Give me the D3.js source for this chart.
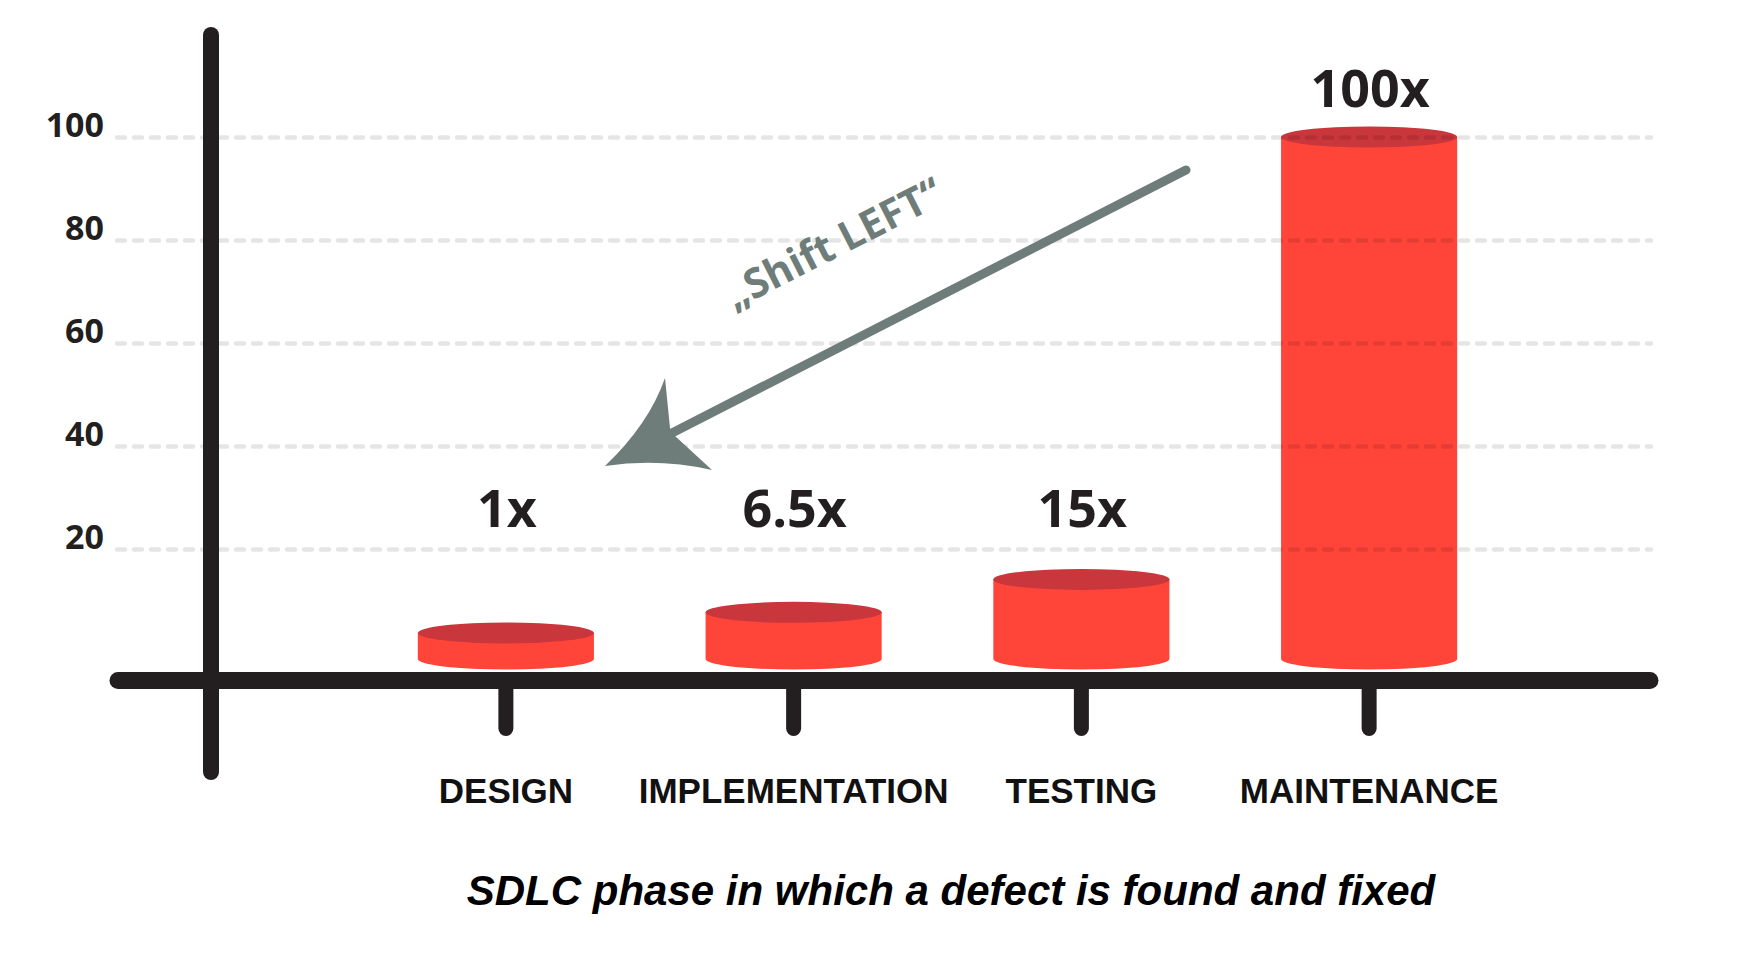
<!DOCTYPE html>
<html lang="en"><head>
<meta charset="utf-8"/>
<title>Cost of fixing a defect by SDLC phase</title>
<script src="https://d3js.org/d3.v7.min.js"></script>
<style>
    body { margin: 0; padding: 0; background: #ffffff; }
    #chart { width: 1742px; height: 963px; }
    .ytick text { font-family: 'Open Sans', sans-serif; font-weight: 700; font-size: 34px; fill: #231f20; }
    .xtick text { font-family: 'Liberation Sans', Arial, sans-serif; font-weight: 700; font-size: 35px; fill: #111; }
    .value-label { font-family: 'Open Sans', sans-serif; font-weight: 700; font-size: 52px; fill: #231f20; }
    .title { font-family: 'Liberation Sans', Arial, sans-serif; font-weight: 700; font-style: italic; font-size: 42px; fill: #000; }
    .shift { font-family: 'Open Sans', sans-serif; font-weight: 700; font-size: 41px; fill: #6e7d79; }
</style>
</head>
<body>
<div id="chart"></div>
<script>
    // Data
    const categories = ["DESIGN", "IMPLEMENTATION", "TESTING", "MAINTENANCE"];
    const barValues = [3.7, 7.7, 14.1, 100];
    const valueLabels = ["1x", "6.5x", "15x", "100x"];
    const yTicks = [20, 40, 60, 80, 100];

    const W = 1742, H = 963;
    const ink = "#231f20";

    const svg = d3.select("#chart").append("svg")
        .attr("width", W)
        .attr("height", H);

    svg.append("rect").attr("width", W).attr("height", H).attr("fill", "#fff");

    // scales
    const x = d3.scaleBand()
        .domain(categories)
        .range([362, 1513])
        .paddingInner(0.388)
        .paddingOuter(0.194);

    const y = d3.scaleLinear()
        .domain([0, 100])
        .range([652, 137]);

    const baseY = y(0) + 7;   // cylinders sit a little below the zero line
    const ry = 10.5;

    // cylinders
    const bars = svg.append("g").attr("class", "bars");
    categories.forEach((c, i) => {
        const x0 = x(c), x1 = x(c) + x.bandwidth();
        const rx = x.bandwidth() / 2;
        const top = y(barValues[i]);
        bars.append("path")
            .attr("d", `M${x0},${top}L${x0},${baseY}A${rx},${ry} 0 0 0 ${x1},${baseY}L${x1},${top}Z`)
            .attr("fill", "#ff4439");
        bars.append("ellipse")
            .attr("cx", x0 + rx)
            .attr("cy", top)
            .attr("rx", rx)
            .attr("ry", ry)
            .attr("fill", "#c9363b");
    });

    // dashed grid + y labels (drawn over the bars, like the original)
    const gridLeft = 117, gridRight = 1651;
    const yAxis = svg.append("g")
        .attr("class", "ytick")
        .attr("transform", `translate(${gridLeft},0)`)
        .call(d3.axisLeft(y).tickValues(yTicks).tickSize(-(gridRight - gridLeft)).tickPadding(13));
    yAxis.select(".domain").remove();
    yAxis.selectAll(".tick line")
        .attr("stroke", "rgba(0,0,0,0.1)")
        .attr("stroke-width", 4.5)
        .attr("stroke-dasharray", "8 9")
        .attr("stroke-linecap", "round");
    yAxis.selectAll(".tick text").attr("dy", "-1");

    // heavy axis lines
    svg.append("line")
        .attr("x1", 211).attr("x2", 211)
        .attr("y1", 35).attr("y2", 772)
        .attr("stroke", ink).attr("stroke-width", 16).attr("stroke-linecap", "round");

    const axisY = 680.5;
    const xAxis = svg.append("g")
        .attr("class", "xtick")
        .attr("transform", `translate(0,${axisY})`)
        .call(d3.axisBottom(x).tickSize(48).tickSizeOuter(0));
    xAxis.select(".domain").remove();
    xAxis.selectAll(".tick line")
        .attr("stroke", ink).attr("stroke-width", 15).attr("stroke-linecap", "round");
    xAxis.selectAll(".tick text")
        .attr("y", 122.5)
        .attr("dy", 0);

    svg.append("line")
        .attr("x1", 118).attr("x2", 1650)
        .attr("y1", axisY).attr("y2", axisY)
        .attr("stroke", ink).attr("stroke-width", 17).attr("stroke-linecap", "round");

    // value labels
    svg.selectAll(".value-label")
        .data(categories)
        .enter().append("text")
        .attr("class", "value-label")
        .attr("text-anchor", "middle")
        .attr("x", d => x(d) + x.bandwidth() / 2 + 1)
        .attr("y", (d, i) => Math.min(y(barValues[i]) - ry - 20, y(20) - 22))
        .text((d, i) => valueLabels[i]);

    // "Shift LEFT" arrow
    const arrowColor = "#6e7d79";
    svg.append("line")
        .attr("x1", 1186).attr("y1", 170)
        .attr("x2", 672).attr("y2", 433)
        .attr("stroke", arrowColor).attr("stroke-width", 9).attr("stroke-linecap", "round");
    svg.append("path")
        .attr("d", "M605,466Q649,424 665,378L670,428L675,436L712,470Q659,458 605,466Z")
        .attr("fill", arrowColor);
    svg.append("text")
        .attr("class", "shift")
        .attr("text-anchor", "middle")
        .attr("transform", "translate(840,256) rotate(-27)")
        .text("\u201EShift LEFT\u201C");

    // axis title
    svg.append("text")
        .attr("class", "title")
        .attr("text-anchor", "middle")
        .attr("x", 951)
        .attr("y", 905)
        .text("SDLC phase in which a defect is found and fixed");
</script>
</body></html>
